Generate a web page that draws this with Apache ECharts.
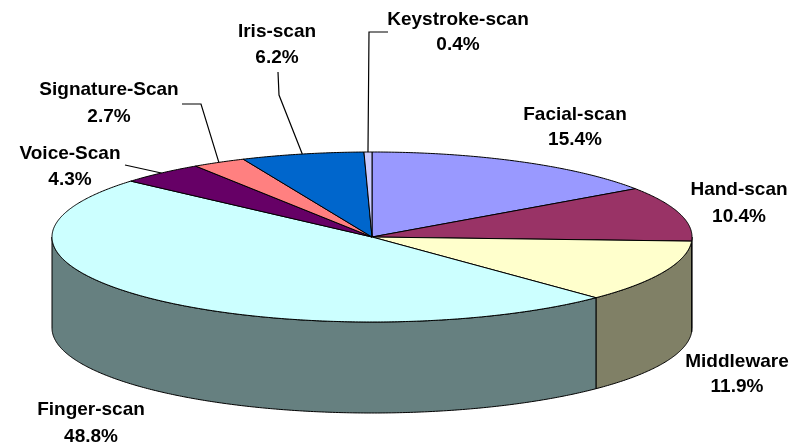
<!DOCTYPE html>
<html><head><meta charset="utf-8">
<script src="https://cdn.jsdelivr.net/npm/echarts@6/dist/echarts.min.js"></script>
<style>html,body{margin:0;padding:0;background:#fff}#c{width:794px;height:444px}</style>
</head><body><div id="c"></div>
<script>
// ---- data ----
const categories = ['Facial-scan','Hand-scan','Middleware','Finger-scan','Voice-Scan','Signature-Scan','Iris-scan','Keystroke-scan'];
const shares = [15.4, 10.4, 11.9, 48.8, 4.3, 2.7, 6.2, 0.4];
const topColors = ['#9999FF','#993366','#FFFFCC','#CCFFFF','#660066','#FF8080','#0066CC','#CCCCFF'];

// ---- layout (positions/styles only) ----
const PIE = {cx: 372, cy: 237, rx: 320, ry: 85, depth: 91};
const labelLayout = [
  {x: 575, y1: 115, y2: 140},
  {x: 739, y1: 190, y2: 217},
  {x: 737, y1: 362, y2: 387},
  {x: 91,  y1: 410, y2: 437},
  {x: 70,  y1: 154, y2: 180, leader: [[125,165]]},
  {x: 109, y1: 90,  y2: 117, leader: [[182,104],[201,104]]},
  {x: 277, y1: 32,  y2: 58,  leader: [[278,72],[279,95]]},
  {x: 458, y1: 20,  y2: 45,  leader: [[388,32],[369,32]]}
];
const FONT = 'bold 19px "Liberation Sans", Arial, sans-serif';

const total = shares.reduce((a,b)=>a+b,0);
function startFrac(i){ let s=0; for(let k=0;k<i;k++) s+=shares[k]; return s/total; }
function pt(theta, dy){ return [PIE.cx + PIE.rx*Math.sin(theta), PIE.cy - PIE.ry*Math.cos(theta) + (dy||0)]; }
function arc(a, b, dy){
  const pts=[]; const n=Math.max(2, Math.ceil((b-a)/(Math.PI/360)));
  for(let k=0;k<=n;k++){ pts.push(pt(a+(b-a)*k/n, dy)); }
  return pts;
}
function darken(hex){
  const v=parseInt(hex.slice(1),16);
  const r=(v>>16)&255,g=(v>>8)&255,b=v&255;
  return 'rgb('+Math.round(r/2)+','+Math.round(g/2)+','+Math.round(b/2)+')';
}
const seriesData = shares.map((v,i)=>({name: categories[i], value: [v, i]}));

function sliceAngles(api, idx){
  const a = startFrac(idx)*2*Math.PI;
  const b = a + api.value(0)/total*2*Math.PI;
  return [a,b];
}

const chart = echarts.init(document.getElementById('c'), null, {renderer:'canvas'});
chart.setOption({
  backgroundColor: '#ffffff',
  animation: false,
  series: [
    { // side walls
      type: 'custom', coordinateSystem: 'none', z: 2, silent: true,
      data: seriesData,
      renderItem: function(params, api){
        const idx = params.dataIndex;
        const [a,b] = sliceAngles(api, idx);
        const lo = Math.max(a, Math.PI/2), hi = Math.min(b, 3*Math.PI/2);
        if (hi <= lo) return {type:'group', children:[]};
        const top = arc(lo, hi, 0);
        const bot = arc(lo, hi, PIE.depth).reverse();
        return {type:'polygon', shape:{points: top.concat(bot)},
          style:{fill: darken(topColors[idx]), stroke:'#000', lineWidth:1, lineJoin:'round'}};
      }
    },
    { // top faces
      type: 'custom', coordinateSystem: 'none', z: 3, silent: true,
      data: seriesData,
      renderItem: function(params, api){
        const idx = params.dataIndex;
        const [a,b] = sliceAngles(api, idx);
        const pts = [[PIE.cx, PIE.cy]].concat(arc(a, b, 0));
        return {type:'polygon', shape:{points: pts},
          style:{fill: topColors[idx], stroke:'#000', lineWidth:1, lineJoin:'round'}};
      }
    },
    { // labels + leader lines
      type: 'custom', coordinateSystem: 'none', z: 4, silent: true,
      data: seriesData,
      renderItem: function(params, api){
        const idx = params.dataIndex;
        const [a,b] = sliceAngles(api, idx);
        const L = labelLayout[idx];
        const children = [
          {type:'text', style:{text: categories[idx], x: L.x, y: L.y1, align:'center', verticalAlign:'middle', font: FONT, fill:'#000'}},
          {type:'text', style:{text: api.value(0).toFixed(1)+'%', x: L.x, y: L.y2, align:'center', verticalAlign:'middle', font: FONT, fill:'#000'}}
        ];
        if (L.leader){
          const anchor = pt((a+b)/2, 0);
          children.push({type:'polyline', shape:{points: L.leader.concat([anchor])},
            style:{fill:null, stroke:'#000', lineWidth:1.2}});
        }
        return {type:'group', children: children};
      }
    }
  ]
});
</script>
</body></html>
